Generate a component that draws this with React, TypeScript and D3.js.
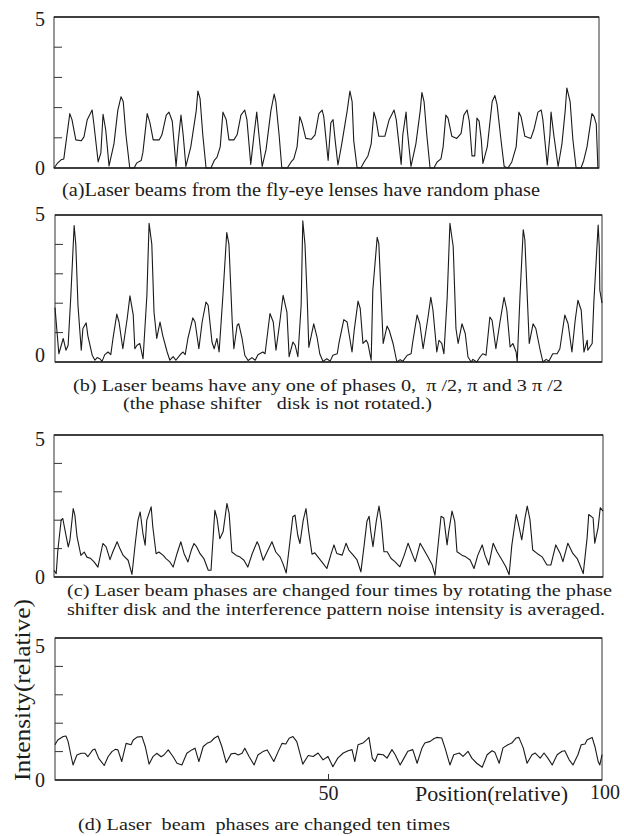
import React from "react";
import * as d3 from "d3";

// position (relative, 0-100) / intensity (relative) vertices
const traceA: [number, number][] = [
  [0, 0], [0.6, 0.15], [1.3, 0.27], [1.8, 0.3], [2.9, 1.8], [3.3, 1.6], [4.0, 0.93], [5.0, 0.9], [5.5, 1.03], [6.1, 1.6],
  [7.0, 1.92], [7.3, 1.48], [8.1, 0.2], [8.6, 0.5], [9.0, 1.78], [9.5, 1.25], [10.1, 0.07], [11.0, 0.8], [11.7, 1.9], [12.3, 2.36],
  [12.7, 2.2], [13.2, 1.1], [13.9, 0], [14.7, 0], [15.2, 0.17], [16.0, 0.25], [16.3, 0.5], [17.1, 1.8], [17.6, 1.5], [18.2, 0.93],
  [19.3, 0.93], [19.8, 1.1], [20.6, 1.75], [21.1, 1.85], [21.7, 1.55], [22.4, 0.05], [22.8, 0.9], [23.3, 1.75], [23.7, 1.1], [24.2, 0.05],
  [25.1, 0.7], [26.1, 1.9], [26.4, 2.55], [26.8, 2.3], [27.3, 1.1], [27.9, 0], [28.8, 0], [29.4, 0.25], [29.9, 0.35], [30.5, 0.7],
  [31.0, 1.85], [31.6, 1.6], [32.1, 0.93], [33.0, 0.93], [33.6, 1.1], [34.3, 1.75], [35.0, 1.92], [35.4, 1.6], [36.1, 0.12], [36.7, 1.1],
  [37.2, 1.85], [37.6, 1.1], [38.2, 0.05], [38.9, 0.6], [39.8, 1.9], [40.4, 2.45], [40.7, 2.2], [41.3, 1.1], [41.8, 0], [42.8, 0],
  [43.5, 0.2], [44.0, 0.3], [44.6, 0.7], [45.1, 1.7], [45.5, 1.5], [46.2, 0.98], [47.2, 0.95], [47.9, 1.1], [48.6, 1.8], [49.2, 1.92],
  [49.5, 1.7], [50.3, 0.25], [50.8, 1.5], [51.2, 1.6], [51.6, 0.9], [52.1, 0.1], [52.8, 0.8], [53.8, 1.9], [54.3, 2.55], [54.7, 2.2],
  [55.0, 0.9], [55.6, 0.02], [56.3, 0], [56.9, 0.2], [57.6, 0.4], [58.2, 0.8], [58.7, 1.85], [59.1, 1.6], [59.6, 1.05], [60.7, 1.05],
  [61.5, 1.6], [62.4, 1.92], [62.8, 1.6], [63.7, 0.12], [64.0, 1.1], [64.6, 1.85], [64.8, 1.3], [65.5, 0.05], [66.4, 0.8], [67.2, 1.9],
  [67.5, 2.5], [67.9, 2.2], [68.4, 1.1], [69.0, 0], [69.7, 0], [70.3, 0.2], [71.0, 0.3], [71.4, 0.7], [71.9, 1.75], [72.3, 1.65],
  [73.0, 1.05], [73.9, 0.98], [74.7, 1.15], [75.2, 1.75], [75.8, 1.92], [76.2, 1.55], [76.7, 0.4], [77.2, 0.4], [77.6, 1.65], [78.0, 1.55],
  [78.4, 0.95], [78.7, 0.15], [79.5, 0.7], [80.4, 2.2], [80.9, 2.4], [81.3, 2.1], [82.0, 0.95], [82.6, 0.05], [83.3, 0], [84.0, 0.2],
  [84.8, 0.7], [85.3, 1.85], [85.7, 1.7], [86.4, 1.05], [87.5, 0.98], [88.1, 1.3], [88.8, 1.85], [89.4, 1.92], [89.7, 1.6], [90.5, 0.1],
  [91.0, 1.1], [91.2, 1.85], [91.7, 1.1], [92.5, 0.05], [93.2, 0.8], [93.8, 1.9], [94.1, 2.65], [94.7, 2.2], [95.2, 0.95], [95.8, 0],
  [96.7, 0], [97.2, 0.25], [97.8, 0.7], [98.7, 1.8], [99.1, 1.7], [99.5, 1.45], [99.8, 0],
];

const traceB: [number, number][] = [
  [0, 1.85], [0.7, 0.28], [1.5, 0.8], [2.0, 0.4], [2.4, 0.57], [2.9, 2.27], [3.5, 4.64], [3.8, 4.0], [4.2, 1.93], [4.8, 0.4],
  [5.1, 1.14], [5.7, 1.33], [6.0, 0.9], [6.8, 0.23], [7.3, 0.06], [7.7, 0.15], [8.2, 0.11], [8.6, 0.02], [9.1, 0.25], [9.7, 0.34],
  [10.2, 0.25], [10.6, 0.8], [11.3, 1.63], [11.7, 1.36], [12.4, 0.45], [13.2, 1.48], [13.7, 2.25], [14.3, 1.6], [14.6, 0.45], [15.0, 0.57],
  [15.5, 0.63], [16.1, 0.11], [16.8, 2.27], [17.2, 4.72], [17.7, 4.0], [18.1, 1.7], [18.6, 0.8], [19.2, 1.36], [19.7, 0.9], [20.5, 0.34],
  [21.0, 0.06], [21.6, 0.18], [22.1, 0.06], [22.9, 0.25], [23.4, 0.34], [23.8, 0.25], [24.3, 0.8], [25.2, 1.5], [25.6, 1.36], [26.3, 0.45],
  [26.9, 1.36], [27.6, 2.04], [28.0, 1.93], [28.7, 0.68], [29.1, 0.45], [29.6, 0.8], [30.0, 0.34], [30.7, 2.27], [31.4, 4.4], [31.8, 4.0],
  [32.4, 1.36], [32.7, 0.45], [33.3, 1.25], [33.6, 1.3], [34.2, 0.8], [34.7, 0.23], [35.3, 0.05], [36.0, 0.15], [36.6, 0.06], [37.1, 0.25],
  [38.0, 0.34], [38.4, 0.28], [39.3, 1.65], [39.9, 1.36], [40.4, 0.4], [41.1, 1.36], [41.7, 2.27], [42.4, 1.7], [42.8, 0.18], [43.5, 0.68],
  [43.9, 0.57], [44.4, 0.18], [45.0, 1.93], [45.3, 4.8], [45.7, 4.0], [46.1, 2.2], [46.4, 0.5], [47.3, 1.3], [47.9, 0.85], [48.4, 0.28],
  [49.0, 0.02], [49.7, 0.11], [50.3, 0.03], [50.8, 0.23], [51.6, 0.28], [51.9, 0.63], [52.8, 1.44], [53.4, 1.36], [54.3, 0.34], [54.7, 1.08],
  [55.4, 2.07], [55.8, 1.82], [56.3, 0.63], [56.9, 0.74], [57.2, 0.63], [57.8, 0.06], [58.1, 2.44], [58.9, 4.24], [59.2, 4.03], [60.0, 0.63],
  [60.7, 1.22], [61.1, 1.08], [61.8, 0.63], [62.5, 0], [63.1, 0.08], [63.6, 0.03], [64.4, 0.23], [65.1, 0.28], [65.4, 0.68], [66.2, 1.6],
  [66.7, 1.3], [67.3, 0.45], [68.2, 1.53], [68.7, 2.2], [69.1, 1.76], [69.8, 0.34], [70.2, 0.74], [70.7, 0.63], [71.1, 0.28], [71.7, 2.2],
  [72.2, 4.72], [72.8, 3.92], [73.3, 1.14], [73.7, 0.63], [74.4, 1.3], [75.0, 0.97], [75.5, 0.17], [76.1, 0], [76.4, 0.09], [77.1, 0],
  [77.7, 0.17], [78.2, 0.28], [78.8, 0.23], [79.5, 1.53], [79.9, 1.42], [80.6, 0.45], [81.4, 1.42], [82.1, 2.2], [82.6, 1.76], [83.2, 0.51],
  [83.7, 0.63], [84.3, 0.34], [84.5, 0], [85.0, 2.2], [85.6, 4.5], [85.9, 4.15], [86.7, 0.63], [87.4, 1.3], [87.9, 1.14], [88.7, 0.4],
  [89.2, 0], [89.8, 0.09], [90.3, 0.03], [91.0, 0.28], [91.8, 0.28], [92.3, 0.45], [93.2, 1.6], [93.8, 1.3], [94.5, 0.34], [95.1, 1.42],
  [95.6, 2.1], [96.2, 1.76], [96.7, 0.34], [97.3, 0.74], [97.4, 0.4], [98.2, 0.63], [98.5, 2.0], [99.3, 4.66], [99.5, 3.92], [99.6, 2.44],
  [100, 2.0],
];

const traceC: [number, number][] = [
  [0, 0.24], [0.4, 0.12], [0.7, 0.94], [1.3, 2.0], [1.6, 2.06], [2.0, 1.65], [2.6, 1.06], [2.9, 1.3], [3.5, 2.41], [3.8, 2.18],
  [4.2, 1.41], [4.9, 0.76], [5.5, 0.88], [6.0, 0.7], [6.7, 0.65], [7.3, 0.53], [8.0, 0.35], [8.9, 1.18], [9.5, 1.06], [10.2, 0.61],
  [10.7, 0.88], [11.5, 1.24], [12.0, 1.0], [12.6, 0.76], [13.5, 0.59], [14.2, 0.09], [14.8, 1.18], [15.3, 2.0], [15.7, 2.29], [16.2, 1.53],
  [16.6, 1.12], [16.9, 2.0], [17.7, 2.47], [18.0, 1.76], [18.6, 0.82], [19.1, 0.88], [19.9, 0.76], [20.4, 0.65], [21.1, 0.53], [21.7, 0.35],
  [22.4, 0.82], [23.1, 1.24], [23.7, 0.82], [24.4, 0.53], [25.0, 0.94], [25.5, 1.18], [26.0, 1.06], [26.6, 0.82], [27.3, 0.65], [28.1, 0.24],
  [28.6, 0.24], [29.3, 2.35], [29.7, 2.06], [30.2, 1.35], [30.8, 1.59], [31.5, 2.59], [31.9, 2.24], [32.4, 0.88], [33.2, 0.76], [33.9, 0.7],
  [34.6, 0.59], [35.3, 0.35], [36.1, 0.82], [37.0, 1.24], [37.3, 1.12], [38.1, 0.59], [38.8, 0.88], [39.7, 1.24], [40.4, 0.88], [41.2, 0.7],
  [41.7, 0.47], [42.3, 0.14], [43.0, 1.29], [43.5, 2.12], [43.9, 2.18], [44.4, 1.47], [44.8, 1.18], [45.4, 2.0], [45.9, 2.41], [46.4, 1.6],
  [47.0, 0.8], [47.5, 0.85], [48.5, 0.6], [49.0, 0.48], [49.7, 0.3], [50.5, 0.83], [51.0, 1.13], [51.5, 0.83], [52.5, 0.77], [53.2, 1.19],
  [53.7, 0.95], [54.5, 0.77], [55.2, 0.6], [55.9, 0.18], [56.5, 1.13], [57.0, 1.96], [57.4, 2.14], [57.7, 1.6], [58.1, 1.07], [58.7, 1.96],
  [59.2, 2.5], [59.6, 1.96], [60.1, 0.89], [60.7, 0.89], [61.4, 0.65], [62.1, 0.54], [63.0, 0.36], [63.8, 0.77], [64.5, 1.19], [65.2, 0.83],
  [65.8, 0.54], [66.7, 1.19], [67.4, 0.95], [68.1, 0.71], [68.9, 0.42], [69.4, 0.06], [69.9, 1.01], [70.5, 2.14], [71.0, 2.08], [71.6, 1.13],
  [71.9, 1.6], [72.5, 2.32], [73.0, 1.96], [73.4, 0.89], [74.3, 0.77], [75.0, 0.71], [75.8, 0.6], [76.5, 0.3], [77.2, 0.77], [78.0, 1.13],
  [78.5, 0.77], [79.2, 0.42], [80.0, 1.19], [80.7, 0.89], [81.6, 0.6], [82.3, 0.36], [82.9, 0.08], [83.4, 1.13], [84.2, 2.2], [84.5, 1.96],
  [85.2, 1.31], [85.8, 2.08], [86.2, 2.5], [86.7, 2.02], [87.2, 0.95], [88.0, 0.83], [88.9, 0.71], [89.8, 0.42], [90.5, 0.42], [91.4, 1.13],
  [92.2, 0.83], [92.7, 0.54], [93.6, 1.19], [94.5, 0.83], [95.3, 0.65], [95.8, 0.42], [96.4, 0.12], [97.1, 1.37], [97.4, 2.2], [98.2, 2.08],
  [98.5, 1.19], [99.1, 1.73], [99.5, 2.44], [100, 2.32],
];

const traceD: [number, number][] = [
  [0, 1.24], [0.5, 1.41], [1.5, 1.53], [2.0, 1.55], [2.4, 1.35], [2.9, 0.88], [3.3, 0.53], [4.0, 0.88], [4.8, 0.94], [5.5, 0.94],
  [6.0, 0.82], [6.9, 1.06], [7.3, 1.09], [8.0, 0.76], [9.0, 0.51], [9.7, 0.82], [10.4, 1.0], [11.0, 1.08], [11.5, 1.06], [12.2, 0.65],
  [13.0, 1.29], [13.9, 1.24], [14.3, 1.41], [15.0, 1.51], [15.9, 1.53], [16.5, 1.18], [17.2, 0.56], [17.9, 0.82], [18.6, 0.94], [19.4, 0.82],
  [19.9, 0.88], [20.7, 1.06], [21.6, 0.82], [22.3, 0.59], [23.2, 0.53], [24.1, 0.94], [25.0, 1.06], [25.6, 1.12], [26.3, 0.65], [27.1, 1.18],
  [27.8, 1.29], [28.5, 1.35], [29.1, 1.47], [29.8, 1.55], [30.5, 1.18], [31.3, 0.61], [32.2, 0.92], [32.9, 0.94], [33.5, 0.88], [34.2, 0.94],
  [34.7, 1.12], [35.5, 0.82], [36.4, 0.53], [37.1, 0.88], [38.0, 1.0], [38.8, 1.06], [39.5, 0.82], [40.0, 0.65], [40.8, 1.0], [41.5, 1.29],
  [42.2, 1.27], [42.8, 1.47], [43.5, 1.53], [44.2, 1.35], [45.3, 0.56], [46.3, 0.86], [47.2, 0.83], [48.1, 0.95], [49.0, 0.71], [49.9, 0.83],
  [50.8, 0.47], [51.7, 0.77], [52.7, 0.95], [53.6, 1.03], [54.3, 1.07], [54.8, 0.65], [55.4, 1.24], [56.3, 1.3], [57.0, 1.42], [57.4, 1.5],
  [58.0, 0.77], [58.5, 0.65], [59.0, 0.91], [60.0, 0.89], [60.7, 0.77], [61.6, 1.07], [62.2, 0.89], [63.1, 0.53], [63.8, 0.77], [64.5, 1.01],
  [65.4, 1.07], [66.2, 0.59], [67.1, 1.13], [67.6, 1.3], [68.6, 1.36], [69.3, 1.46], [69.8, 1.5], [70.7, 1.48], [71.3, 1.13], [72.2, 0.53],
  [72.9, 0.89], [73.9, 0.95], [74.6, 0.83], [75.5, 1.01], [76.2, 0.77], [77.1, 0.59], [78.1, 0.45], [79.0, 0.89], [79.9, 1.03], [80.4, 0.98],
  [81.2, 0.59], [81.9, 1.13], [82.8, 1.24], [83.5, 1.3], [84.3, 1.48], [84.8, 1.5], [85.6, 1.13], [86.3, 0.59], [87.2, 0.89], [87.8, 0.95],
  [88.7, 0.77], [89.4, 0.95], [90.1, 0.77], [90.9, 0.53], [91.8, 0.89], [92.7, 1.01], [93.2, 1.03], [94.0, 0.71], [94.7, 0.53], [95.6, 0.89],
  [96.2, 1.24], [96.9, 1.27], [97.3, 1.42], [98.2, 1.5], [98.7, 1.18], [99.3, 0.65], [99.6, 0.53], [100, 0.89],
];

const yTickLabels = ["0", "5"];
const xTickLabels = ["50", "100"];
const xTitle = "Position(relative)";
const yTitle = "Intensity(relative)";

const captions = [
  ["(a)Laser beams from the fly-eye lenses have random phase"],
  ["(b) Laser beams have any one of phases 0,  \u03c0 /2, \u03c0 and 3 \u03c0 /2", "(the phase shifter   disk is not rotated.)"],
  [
    "(c) Laser beam phases are changed four times by rotating the phase",
    "shifter disk and the interference pattern noise intensity is averaged.",
  ],
  ["(d) Laser  beam  phases are changed ten times"],
];

const W = 624;
const H = 836;
const FONT = "Liberation Serif";
const INK = "#1c1c1c";

// frame + text layout per panel
const panels = [
  { trace: traceA, left: 54, right: 599, top: 17, bottom: 168, top5: 26, base0: 175, capSize: 18,
    cap: [{ x: 62, y: 196, w: 478 }] },
  { trace: traceB, left: 55, right: 602, top: 215, bottom: 362, top5: 221, base0: 362, capSize: 17,
    cap: [{ x: 73, y: 391, w: 490 }, { x: 123, y: 409, w: 309 }] },
  { trace: traceC, left: 54, right: 603, top: 435, bottom: 577, top5: 446, base0: 584, capSize: 16,
    cap: [{ x: 67, y: 596, w: 545 }, { x: 67, y: 615, w: 538 }] },
  { trace: traceD, left: 55, right: 602, top: 638, bottom: 780, top5: 653, base0: 787, capSize: 17.5,
    cap: [{ x: 78, y: 830, w: 372 }] },
];

const txt = { fontFamily: FONT, fill: INK };

function Panel({ p, idx }: { p: any; idx: number }) {
  const x = d3.scaleLinear().domain([0, 100]).range([p.left, p.right]);
  const y = d3.scaleLinear().domain([0, 5]).range([p.bottom, p.top]);
  const line = d3
    .line<[number, number]>()
    .x((d) => x(d[0]))
    .y((d) => y(d[1]));
  const ticks = y.ticks(5).filter((t) => t > 0 && t < 5);
  const last = idx === panels.length - 1;

  return (
    <g>
      <rect x={p.left} y={p.top} width={p.right - p.left} height={p.bottom - p.top}
        fill="none" stroke="#333" strokeWidth={1} />
      <line x1={p.left} x2={p.right} y1={p.top} y2={p.top} stroke="#222" strokeWidth={1.6} />
      <line x1={p.left} x2={p.right} y1={p.bottom} y2={p.bottom} stroke="#222" strokeWidth={1.6} />
      {ticks.map((t) => (
        <line key={t} x1={p.left} x2={p.left + 8} y1={y(t)} y2={y(t)} stroke="#333" strokeWidth={1} />
      ))}
      <text x={45} y={p.base0} textAnchor="end" fontSize={20} style={txt}>{yTickLabels[0]}</text>
      <text x={45} y={p.top5} textAnchor="end" fontSize={20} style={txt}>{yTickLabels[1]}</text>
      <path d={line(p.trace) || ""} fill="none" stroke="#1a1a1a" strokeWidth={1.1} strokeLinejoin="round" />
      {captions[idx].map((c, i) => (
        <text key={i} x={p.cap[i].x} y={p.cap[i].y} fontSize={p.capSize}
          textLength={p.cap[i].w} lengthAdjust="spacingAndGlyphs" style={{ ...txt, whiteSpace: "pre" }}>
          {c}
        </text>
      ))}
      {last && (
        <g>
          <line x1={x(50)} x2={x(50)} y1={p.bottom} y2={p.bottom - 6} stroke="#333" strokeWidth={1} />
          <text x={x(50)} y={800} textAnchor="middle" fontSize={20} style={txt}>{xTickLabels[0]}</text>
          <text x={415} y={801} fontSize={21} style={txt} textLength={153} lengthAdjust="spacingAndGlyphs">{xTitle}</text>
          <text x={x(100) + 3} y={799} textAnchor="middle" fontSize={20} style={txt}>{xTickLabels[1]}</text>
        </g>
      )}
    </g>
  );
}

export default function App() {
  return (
    <svg width={W} height={H} style={{ position: "absolute", left: 0, top: 0, background: "#fff" }}>
      <rect width={W} height={H} fill="#fff" />
      {panels.map((p, i) => (
        <Panel key={i} p={p} idx={i} />
      ))}
      <text transform="translate(30,781) rotate(-90)" fontSize={24} style={txt}
        textLength={182} lengthAdjust="spacingAndGlyphs">{yTitle}</text>
    </svg>
  );
}
